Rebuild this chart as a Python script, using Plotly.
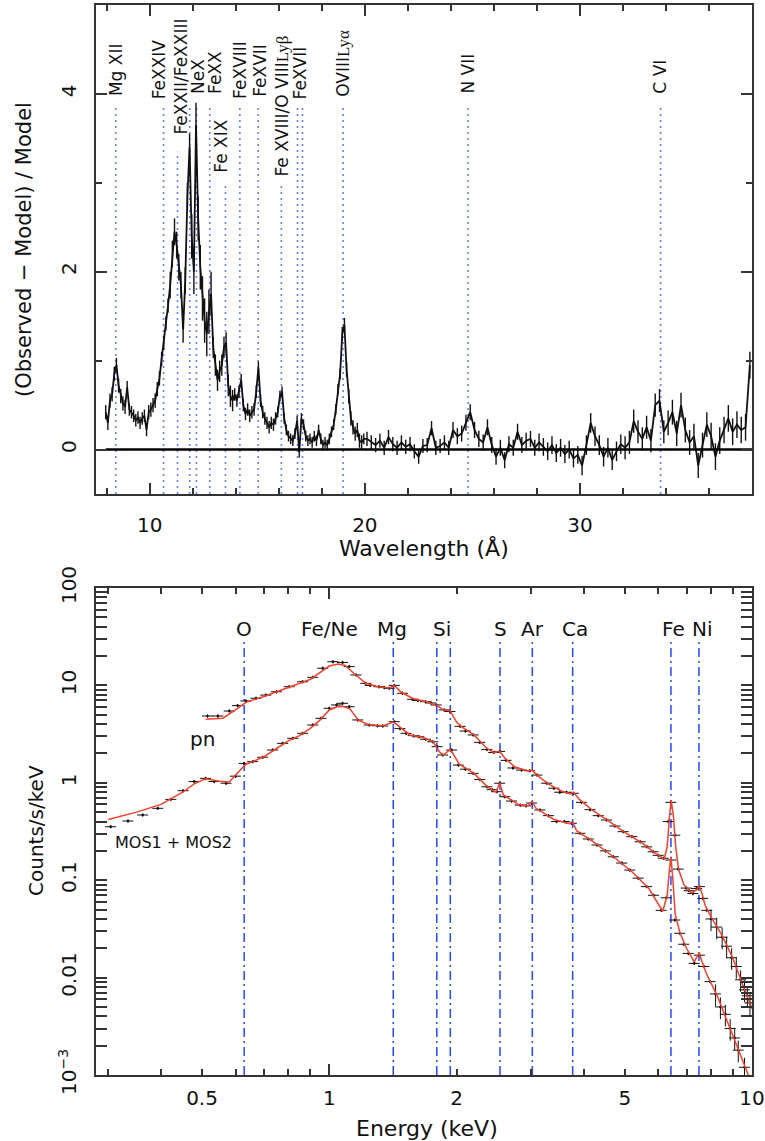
import numpy as np
import plotly.graph_objects as go

FONT = "DejaVu Sans"

# ---------------- Top panel: residuals (Observed - Model)/Model ----------------
wl_a_start, wl_a_step = 7.95, 0.1
resid_a = [
    0.42, 0.30, 0.55, 0.62, 0.85, 0.95, 0.72, 0.60, 0.52, 0.48,
    0.70, 0.45, 0.42, 0.38, 0.33, 0.36, 0.30, 0.35, 0.38, 0.22,
    0.42, 0.45, 0.50, 0.55, 0.68, 0.80, 1.02, 1.20, 1.42, 1.62,
    1.85, 2.20, 2.45, 2.30, 2.05, 1.85, 1.35, 1.90, 2.85, 3.40,
    2.40, 2.00, 3.65, 2.60, 2.05, 1.70, 1.45, 1.30, 1.55, 1.75,
    1.15, 0.95, 0.78, 0.88, 0.95, 1.15, 1.20, 0.72, 0.60, 0.55,
    0.62, 0.55, 0.65, 0.78, 0.50, 0.40, 0.45, 0.38, 0.42, 0.45,
    0.65, 0.92, 0.55, 0.42, 0.35, 0.30, 0.25, 0.30, 0.28, 0.35,
    0.42, 0.60, 0.65, 0.35, 0.22, 0.15, 0.12, 0.10, 0.18, 0.32,
    -0.03, 0.35, 0.28, 0.15, 0.10, 0.12, 0.08, 0.15, 0.10, 0.22,
    0.12, 0.05, 0.08, 0.05, 0.12, 0.20, 0.28, 0.45, 0.68, 0.85,
    1.30, 1.40, 0.90, 0.60, 0.35, 0.25, 0.18, 0.22, 0.10, 0.08,
    0.12,
]
err_rows_a = [0.08, 0.07, 0.08, 0.15, 0.25, 0.12, 0.07, 0.07, 0.06, 0.06, 0.06, 0.08, 0.06]

wl_b_start, wl_b_step = 20.1, 0.2
resid_b = [
    0.12, 0.08, 0.05, 0.10, 0.02, 0.14, 0.06, 0.02, 0.08, 0.03,
    0.06, -0.02, -0.08, 0.04, 0.05, 0.24, 0.02, 0.04, 0.08, 0.02,
    0.22, 0.15, 0.18, 0.30, 0.42, 0.22, 0.12, 0.08, 0.25, 0.05,
    -0.08, 0.02, -0.12, 0.06, 0.02, 0.20, 0.05, 0.10, 0.12, 0.02,
    0.08, 0.03, -0.02, 0.05, -0.04, 0.02, -0.05, 0.00, -0.10, -0.06,
    -0.18, 0.05, 0.30, 0.15, 0.05, -0.08, 0.02, -0.12, -0.02, 0.06,
    0.02, 0.08, 0.32, 0.20, 0.12, 0.25, 0.10, 0.50, 0.55, 0.20,
    0.30, 0.42, 0.18, 0.50, 0.22, 0.08, 0.15, -0.18, 0.05, 0.28,
    0.15, -0.08, 0.10, 0.22, 0.35, 0.20, 0.28, 0.22, 0.25, 0.95,
]
err_rows_b = [0.08, 0.08, 0.09, 0.09, 0.10, 0.11, 0.13, 0.14, 0.15]

line_wl = [8.42, 10.64, 11.29, 11.86, 12.17, 12.79, 13.52, 14.19, 15.04,
           16.12, 16.87, 17.10, 18.99, 24.80, 33.75]
line_top = [3.87, 3.87, 3.35, 3.87, 3.87, 3.87, 2.98, 3.87, 3.87,
            2.97, 3.87, 3.87, 3.87, 3.87, 3.87]

SERIF = "<span style='font-family:Liberation Serif'>"
label_txt = ["Mg XII", "FeXXIV", "FeXXII/FeXXIII", "NeX", "FeXX", "Fe XIX",
             "FeXVIII", "FeXVII", "Fe XVIII/O VIII" + SERIF + "Lyβ</span>",
             "FeXVII", "OVIII" + SERIF + "Lyα</span>", "N VII", "C VI"]
label_wl = [8.44, 10.44, 11.45, 12.23, 13.02, 13.33, 14.19, 15.12, 16.13,
            16.98, 18.98, 24.79, 33.72]
label_base = [3.95, 3.92, 3.52, 3.98, 3.98, 3.09, 3.92, 3.95, 3.05,
              3.92, 3.95, 3.98, 3.98]

# ---------------- Bottom panel: spectra ----------------
pn_E = [0.515, 0.545, 0.58, 0.607, 0.635, 0.671, 0.708, 0.75, 0.804, 0.865,
        0.914, 0.965, 1.02, 1.075, 1.115, 1.157, 1.22, 1.25, 1.31, 1.35,
        1.386, 1.425, 1.49, 1.575, 1.62, 1.69, 1.74, 1.79, 1.87, 1.93,
        2.04, 2.10, 2.19, 2.27, 2.36, 2.45, 2.53, 2.62, 2.72, 2.85,
        2.98, 3.10, 3.27, 3.40, 3.51, 3.64, 3.78, 3.95, 4.14, 4.33,
        4.53, 4.74, 4.96, 5.20, 5.44, 5.64, 5.84, 6.00, 6.17, 6.34,
        6.43, 6.57, 6.69, 6.99, 7.10, 7.25, 7.40, 7.51, 7.65, 7.82,
        8.00, 8.25, 8.50, 8.71, 8.95, 9.18, 9.40, 9.60, 9.75, 9.89]
pn_cts = [4.85, 4.85, 5.46, 6.2, 6.92, 7.38, 7.95, 8.6, 9.7, 10.9,
          12.1, 15.0, 17.5, 17.2, 15.6, 12.8, 10.5, 10.0, 9.7, 9.5,
          9.33, 10.0, 8.3, 7.2, 7.0, 6.8, 6.6, 6.3, 5.6, 5.4,
          3.8, 3.4, 3.1, 2.6, 2.2, 2.05, 2.1, 1.7, 1.42, 1.35,
          1.33, 1.2, 0.99, 0.88, 0.80, 0.80, 0.78, 0.63, 0.53, 0.46,
          0.415, 0.36, 0.315, 0.28, 0.248, 0.22, 0.196, 0.18, 0.168, 0.40,
          0.63, 0.29, 0.13, 0.083, 0.078, 0.073, 0.082, 0.086, 0.065, 0.049,
          0.040, 0.033, 0.026, 0.021, 0.016, 0.013, 0.0095, 0.0075, 0.0065, 0.0055]

pn_mod_E = [0.51, 0.56, 0.60, 0.635, 0.70, 0.80, 0.90, 0.95, 1.00, 1.05,
            1.09, 1.15, 1.22, 1.30, 1.39, 1.425, 1.48, 1.58, 1.70, 1.80,
            1.86, 1.93, 2.00, 2.05, 2.20, 2.36, 2.45, 2.53, 2.60, 2.75,
            2.95, 3.02, 3.10, 3.30, 3.55, 3.72, 3.78, 3.90, 4.20, 4.60,
            5.00, 5.50, 5.90, 6.20, 6.30, 6.38, 6.44, 6.52, 6.60, 6.70,
            6.90, 7.20, 7.40, 7.50, 7.60, 7.75, 8.00, 8.50, 9.00, 9.50, 10.0]
pn_mod = [4.5, 4.6, 5.6, 6.7, 7.7, 9.5, 11.5, 13.5, 15.8, 16.6,
          16.0, 13.0, 10.5, 9.7, 9.4, 10.0, 8.5, 7.3, 6.8, 6.2,
          5.6, 5.5, 4.2, 3.8, 3.1, 2.25, 2.05, 2.1, 1.8, 1.45,
          1.32, 1.35, 1.2, 0.97, 0.82, 0.77, 0.80, 0.68, 0.52, 0.40,
          0.31, 0.24, 0.19, 0.165, 0.22, 0.45, 0.66, 0.45, 0.22, 0.13,
          0.09, 0.074, 0.080, 0.088, 0.075, 0.055, 0.042, 0.027, 0.016, 0.0085, 0.0048]

mos_E = [0.304, 0.334, 0.362, 0.393, 0.422, 0.451, 0.479, 0.51, 0.534, 0.57,
         0.60, 0.629, 0.659, 0.696, 0.735, 0.776, 0.82, 0.865, 0.914, 0.956,
         1.00, 1.04, 1.075, 1.115, 1.168, 1.243, 1.30, 1.338, 1.425, 1.47,
         1.52, 1.58, 1.63, 1.69, 1.757, 1.80, 1.855, 1.948, 2.02, 2.10,
         2.19, 2.27, 2.36, 2.43, 2.49, 2.53, 2.60, 2.70, 2.83, 2.92,
         3.01, 3.15, 3.30, 3.45, 3.60, 3.74, 3.92, 4.10, 4.30, 4.50,
         4.70, 4.92, 5.14, 5.38, 5.63, 5.85, 6.10, 6.27, 6.43, 6.57,
         6.75, 6.90, 7.07, 7.30, 7.51, 7.70, 7.96, 8.20, 8.42, 8.65,
         8.88, 9.10, 9.28, 9.60]
mos_cts = [0.354, 0.405, 0.467, 0.547, 0.676, 0.83, 1.03, 1.11, 1.03, 0.99,
           1.17, 1.58, 1.65, 1.83, 2.17, 2.54, 2.86, 3.22, 3.92, 4.59,
           5.82, 6.3, 6.55, 6.04, 4.42, 3.92, 3.85, 3.83, 4.24, 3.6,
           3.22, 3.05, 2.97, 2.8, 2.64, 2.35, 1.93, 2.17, 1.52, 1.38,
           1.25, 1.08, 0.91, 0.85, 0.81, 0.99, 0.72, 0.65, 0.59, 0.58,
           0.62, 0.526, 0.46, 0.40, 0.40, 0.384, 0.303, 0.265, 0.23, 0.20,
           0.174, 0.15, 0.127, 0.105, 0.086, 0.07, 0.049, 0.066, 0.161, 0.039,
           0.0285, 0.022, 0.0177, 0.014, 0.017, 0.013, 0.0091, 0.0068, 0.005, 0.0042,
           0.003, 0.0024, 0.0018, 0.0012]

mos_mod_E = [0.30, 0.35, 0.40, 0.45, 0.48, 0.51, 0.55, 0.58, 0.61, 0.635,
             0.66, 0.70, 0.75, 0.80, 0.85, 0.90, 0.95, 1.00, 1.04, 1.08,
             1.12, 1.17, 1.24, 1.34, 1.42, 1.48, 1.55, 1.65, 1.76, 1.82,
             1.86, 1.93, 1.96, 2.03, 2.20, 2.36, 2.48, 2.53, 2.58, 2.80,
             2.95, 3.02, 3.08, 3.40, 3.70, 3.77, 3.85, 4.20, 4.70, 5.20,
             5.70, 6.15, 6.30, 6.38, 6.43, 6.50, 6.58, 6.75, 7.00, 7.30,
             7.50, 7.60, 7.80, 8.30, 8.80, 9.30, 9.70, 10.0]
mos_mod = [0.42, 0.50, 0.60, 0.80, 0.98, 1.10, 1.04, 1.02, 1.30, 1.55,
           1.66, 1.85, 2.25, 2.70, 3.05, 3.60, 4.40, 5.60, 6.00, 6.10,
           5.70, 4.40, 3.95, 3.85, 4.20, 3.60, 3.10, 2.95, 2.65, 2.10,
           1.92, 2.20, 2.00, 1.55, 1.25, 0.92, 0.80, 1.00, 0.75, 0.60,
           0.58, 0.64, 0.55, 0.42, 0.38, 0.39, 0.32, 0.25, 0.174, 0.122,
           0.082, 0.048, 0.07, 0.13, 0.175, 0.10, 0.045, 0.029, 0.020, 0.0145,
           0.018, 0.015, 0.011, 0.0063, 0.0033, 0.0018, 0.0011, 0.0008]

elem_E = [0.629, 1.417, 1.796, 1.933, 2.534, 3.022, 3.765, 6.43, 7.49]
elem_top = 29.7
elem_lbl = ["O", "Fe/Ne", "Mg", "Si", "S", "Ar", "Ca", "Fe", "Ni"]
elem_lbl_E = [0.629, 1.0, 1.41, 1.846, 2.54, 3.02, 3.82, 6.51, 7.63]
elem_lbl_y = 37.9

# ---------------- geometry ----------------
W, H = 765, 1141
XD = [96 / W, 752 / W]
YD_TOP = [1 - 494 / H, 1 - 5 / H]
YD_BOT = [1 - 1075 / H, 1 - 588 / H]
TOP_X = [7.5, 38.0]
TOP_Y = [-0.5, 5.0]
BOT_X = [0.2806, 10.0]
BOT_Y = [1e-3, 100.0]

AX = "#333333"
BLK = "#111111"
DOT_BLUE = "#6b7cff"
DD_BLUE = "#2447ff"
RED = "#f5402a"

fig = go.Figure()

# --- top panel ---
wl_a = wl_a_start + wl_a_step * np.arange(len(resid_a))
wl_b = wl_b_start + wl_b_step * np.arange(len(resid_b))
err_a = np.repeat(err_rows_a, 10)[:len(resid_a)]
err_b = np.repeat(err_rows_b, 10)[:len(resid_b)]
wl_all = np.concatenate([wl_a, wl_b])
res_all = np.concatenate([resid_a, resid_b])
err_all = np.concatenate([err_a, err_b])

lx, ly = [], []
for w, t in zip(line_wl, line_top):
    lx += [w, w, None]
    ly += [TOP_Y[0], t, None]
fig.add_trace(go.Scatter(x=lx, y=ly, mode="lines", xaxis="x", yaxis="y",
                         line=dict(color=DOT_BLUE, width=1.6, dash="2px,4px"),
                         hoverinfo="skip", showlegend=False))

fig.add_trace(go.Scatter(x=wl_all, y=res_all, mode="lines", xaxis="x", yaxis="y",
                         line=dict(color=BLK, width=1.8),
                         error_y=dict(type="data", array=err_all, color=BLK,
                                      thickness=1.4, width=0),
                         showlegend=False))
model_x = [wl_all[0], TOP_X[1]]
fig.add_trace(go.Scatter(x=model_x, y=np.zeros(len(model_x)), mode="lines",
                         xaxis="x", yaxis="y", line=dict(color="#000", width=2.6),
                         showlegend=False))

# --- bottom panel ---
bx, by = [], []
for e in elem_E:
    bx += [e, e, None]
    by += [BOT_Y[0], elem_top, None]
fig.add_trace(go.Scatter(x=bx, y=by, mode="lines", xaxis="x2", yaxis="y2",
                         line=dict(color=DD_BLUE, width=1.5, dash="9px,4px,2px,4px"),
                         hoverinfo="skip", showlegend=False))

for E, C in [(pn_E, pn_cts), (mos_E, mos_cts)]:
    E = np.array(E)
    C = np.array(C)
    for mask, pct in [(E < 8.0, 4.0), (E >= 8.0, 25.0)]:
        fig.add_trace(go.Scatter(x=E[mask], y=C[mask], mode="markers",
                                 xaxis="x2", yaxis="y2",
                                 marker=dict(color=BLK, size=2.5),
                                 error_x=dict(type="percent", value=3.0, color=BLK,
                                              thickness=1, width=0),
                                 error_y=dict(type="percent", value=pct, color=BLK,
                                              thickness=1, width=0),
                                 showlegend=False))

fig.add_trace(go.Scatter(x=pn_mod_E, y=pn_mod, mode="lines", xaxis="x2", yaxis="y2",
                         line=dict(color=RED, width=1.5), showlegend=False))
fig.add_trace(go.Scatter(x=mos_mod_E, y=mos_mod, mode="lines", xaxis="x2", yaxis="y2",
                         line=dict(color=RED, width=1.5), showlegend=False))
fig.add_trace(go.Scatter(x=[1], y=[1], xaxis="x3", yaxis="y2", mode="markers",
                         marker=dict(opacity=0), hoverinfo="skip", showlegend=False))

# ---------------- axes ----------------
tickfont = dict(family=FONT, size=20, color=BLK)
common = dict(showgrid=False, zeroline=False, showline=True, linecolor=AX,
              linewidth=2, ticks="inside", tickcolor=AX, tickwidth=1.5,
              mirror="allticks", tickfont=tickfont, automargin=False)

minor_lin = lambda d: dict(dtick=d, ticks="inside", ticklen=6, tickcolor=AX,
                           tickwidth=1.5, showgrid=False)

dec = [1e-3, 1e-2, 1e-1, 1, 10, 100]
ymin_vals = [m * d for d in dec[:-1] for m in range(2, 10)]
xmin_vals = [0.3, 0.4, 0.6, 0.7, 0.8, 0.9, 3, 4, 6, 7, 8, 9]

fig.update_layout(
    width=W, height=H, autosize=False,
    margin=dict(l=0, r=0, t=0, b=0, autoexpand=False),
    paper_bgcolor="white", plot_bgcolor="white",
    font=dict(family=FONT, color=BLK),
    xaxis=dict(domain=XD, anchor="y", range=TOP_X, tick0=0, dtick=10, ticklen=11,
               minor=minor_lin(2), ticklabelstandoff=12, **common),
    yaxis=dict(domain=YD_TOP, anchor="x", range=TOP_Y, tick0=0, dtick=2, ticklen=11,
               minor=minor_lin(1), tickangle=-90, ticklabelstandoff=10, **common),
    xaxis2=dict(domain=XD, anchor="y2", type="log", range=[np.log10(BOT_X[0]), np.log10(BOT_X[1])],
                tickvals=[0.5, 1, 2, 5, 10], ticktext=["0.5", "1", "2", "5", "10"],
                ticklen=6, ticklabelstandoff=4,
                minor=dict(tickvals=xmin_vals, ticks="inside", ticklen=6, tickcolor=AX,
                           tickwidth=1.5, showgrid=False), **common),
    xaxis3=dict(domain=XD, anchor="y2", overlaying="x2", type="log",
                range=[np.log10(BOT_X[0]), np.log10(BOT_X[1])],
                tickvals=[1, 10], ticks="inside", ticklen=11, tickcolor=AX, tickwidth=1.5,
                showticklabels=False, showline=False, showgrid=False, zeroline=False,
                mirror="allticks", automargin=False),
    yaxis2=dict(domain=YD_BOT, anchor="x2", type="log", range=[-3, 2],
                tickvals=dec, ticktext=["10<sup>−3</sup>", "0.01", "0.1", "1", "10", "100"],
                ticklen=11, tickangle=-90, ticklabelstandoff=10,
                minor=dict(tickvals=ymin_vals, ticks="inside", ticklen=6, tickcolor=AX,
                           tickwidth=1.5, showgrid=False), **common),
)

ann = []
for t, x, y in zip(label_txt, label_wl, label_base):
    ann.append(dict(x=x, y=y, xref="x", yref="y", text=t, showarrow=False,
                    textangle=-90, xanchor="center", yanchor="bottom",
                    font=dict(family=FONT, size=17, color=BLK)))
for t, e in zip(elem_lbl, elem_lbl_E):
    ann.append(dict(x=np.log10(e), y=np.log10(elem_lbl_y), xref="x2", yref="y2",
                    text=t, showarrow=False, xanchor="center", yanchor="middle",
                    font=dict(family=FONT, size=20, color=BLK)))
ann.append(dict(x=np.log10(0.5), y=np.log10(2.82), xref="x2", yref="y2", text="pn",
                showarrow=False, xanchor="center", yanchor="middle",
                font=dict(family=FONT, size=20, color=BLK)))
ann.append(dict(x=np.log10(0.427), y=np.log10(0.241), xref="x2", yref="y2",
                text="MOS1 + MOS2", showarrow=False, xanchor="center", yanchor="middle",
                font=dict(family=FONT, size=16, color=BLK)))
# axis titles
title_font = dict(family=FONT, size=22, color=BLK)
ann.append(dict(x=424 / W, y=1 - 548 / H, xref="paper", yref="paper",
                text="Wavelength (Å)", showarrow=False, xanchor="center", yanchor="middle",
                font=title_font))
ann.append(dict(x=24 / W, y=1 - 250 / H, xref="paper", yref="paper",
                text="(Observed − Model) / Model", textangle=-90, showarrow=False,
                xanchor="center", yanchor="middle",
                font=dict(family=FONT, size=21, color=BLK)))
ann.append(dict(x=427 / W, y=1 - 1128 / H, xref="paper", yref="paper",
                text="Energy (keV)", showarrow=False, xanchor="center", yanchor="middle",
                font=title_font))
ann.append(dict(x=36 / W, y=1 - 831 / H, xref="paper", yref="paper",
                text="Counts/s/keV", textangle=-90, showarrow=False,
                xanchor="center", yanchor="middle",
                font=dict(family=FONT, size=20, color=BLK)))
fig.update_layout(annotations=ann)

fig.write_html("out.html", config={"displayModeBar": False},
               post_script="document.body.style.margin='0';"
                           "document.body.style.overflow='hidden';")
